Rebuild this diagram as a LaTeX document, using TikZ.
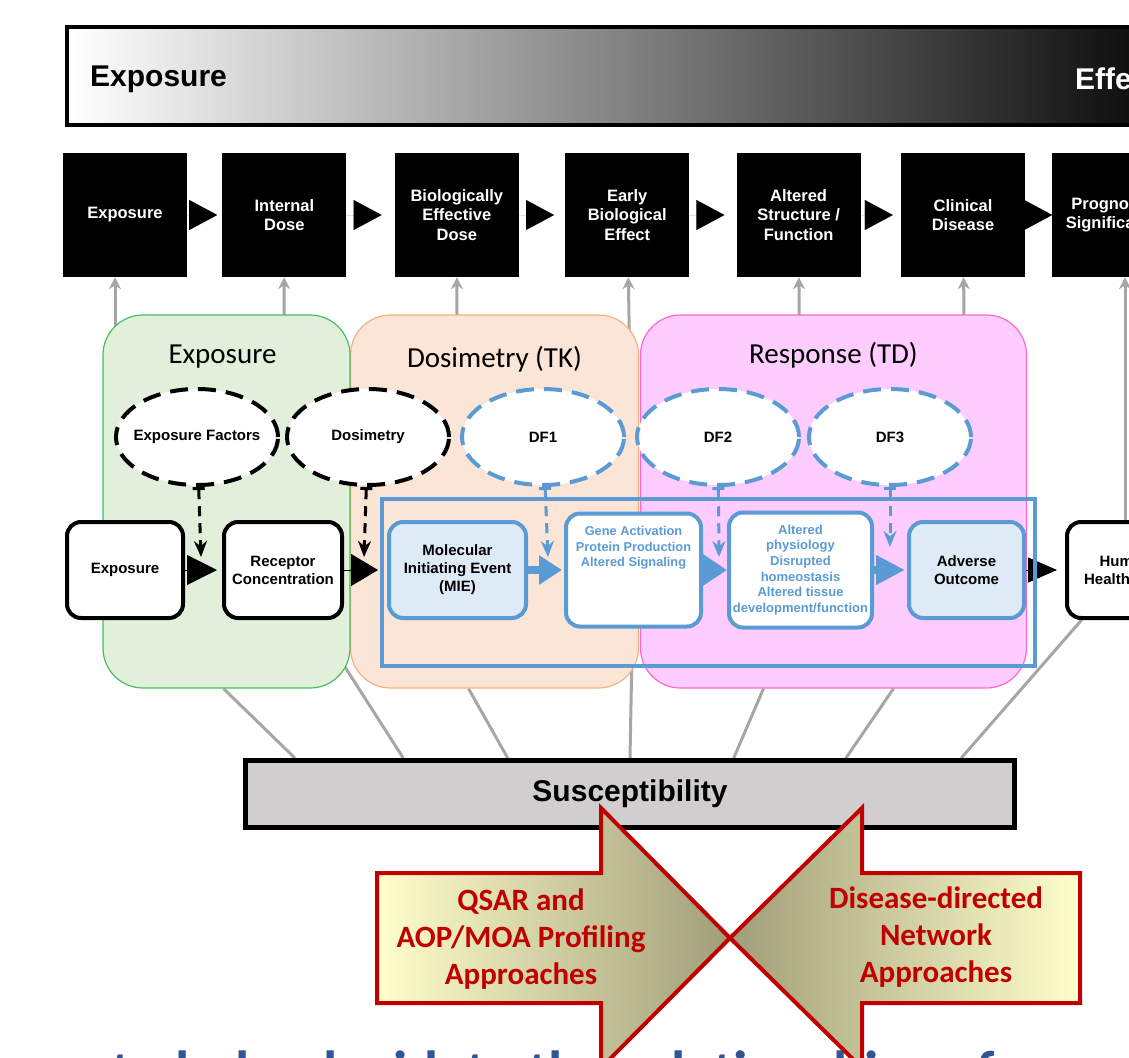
\documentclass[tikz,border=0pt]{standalone}
\usepackage{fontspec}
\setmainfont{Liberation Sans}
\newfontfamily\calibri{Carlito}
\usepackage{xcolor}
\usepackage{tikz}
\definecolor{aopblue}{RGB}{91, 155, 213}
\definecolor{mieblue}{RGB}{222, 235, 247}
\definecolor{expgreen}{RGB}{226, 239, 218}
\definecolor{expgreenline}{RGB}{70, 190, 95}
\definecolor{tkorange}{RGB}{251, 229, 214}
\definecolor{tkorangeline}{RGB}{244, 177, 131}
\definecolor{tdpink}{RGB}{255, 204, 255}
\definecolor{tdpinkline}{RGB}{255, 102, 204}
\definecolor{suscgray}{RGB}{208, 206, 206}
\definecolor{linkgray}{RGB}{166, 166, 166}
\definecolor{approachred}{RGB}{192, 0, 0}
\definecolor{paleyellow}{RGB}{255, 255, 204}
\definecolor{khaki}{RGB}{160, 158, 120}
\definecolor{titleblue}{RGB}{47, 85, 151}
\usetikzlibrary{shapes.geometric, arrows.meta, positioning, calc, backgrounds}
\pgfdeclarelayer{bottom}
\pgfsetlayers{bottom,background,main}

\begin{document}
\begin{tikzpicture}[
    x=1pt, y=-1pt,
    stage/.style={rectangle, fill=black, minimum width=124pt, minimum height=124pt,
                  inner sep=2pt, align=center, text=white,
                  font=\fontsize{16.5}{19.5}\selectfont\bfseries},
    stagearrow/.style={-{Triangle[length=28pt,width=30pt]}, line width=0.01pt},
    zonebox/.style={rectangle, rounded corners=40pt, line width=1.2pt, minimum height=373pt},
    zonetitle/.style={inner sep=0pt, font=\calibri\fontsize{29}{34}\selectfont},
    factor/.style={ellipse, draw=black, line width=4pt, dash pattern=on 18pt off 10pt,
                  fill=white, minimum width=162pt, minimum height=96pt,
                  inner xsep=-8pt, inner ysep=0pt,
                  font=\fontsize{15}{18}\selectfont\bfseries},
    dffactor/.style={factor, draw=aopblue},
    factorlink/.style={line width=3pt, dash pattern=on 10pt off 7pt,
                  {Bar[width=12pt]}-{Stealth[length=16pt,width=13pt]}},
    rowbox/.style={rectangle, draw=black, line width=4pt, rounded corners=14pt, fill=white,
                  align=center, minimum height=96pt, inner sep=1pt,
                  font=\fontsize{15}{18}\selectfont\bfseries},
    keybox/.style={rowbox, draw=aopblue, fill=mieblue},
    kebox/.style={rowbox, draw=aopblue, text=aopblue, font=\fontsize{13}{15.6}\selectfont\bfseries},
    rowarrow/.style={-{Triangle[length=30pt,width=30pt]}, line width=1pt},
    kearrow/.style={aopblue, line width=8pt, -{Triangle[length=23pt,width=28pt]}},
    uplink/.style={linkgray, line width=3pt, -{Stealth[length=12pt,width=12pt]}},
    downlink/.style={linkgray, line width=3pt},
    suscbox/.style={rectangle, draw=black, line width=5pt, fill=suscgray,
                  minimum width=769pt, minimum height=67pt,
                  font=\fontsize{30}{36}\selectfont\bfseries},
    approach/.style={draw=approachred, line width=4pt, line join=miter},
    approachtext/.style={align=center, text=approachred,
                  font=\calibri\bfseries\fontsize{31}{37}\selectfont}
]
    \useasboundingbox (0,0) rectangle (1129,1057);
    \clip (0,0) rectangle (1129,1057);

    % Exposure to effect bar
    \node[draw=black, line width=4pt, left color=white, middle color=black!28, right color=black,
          minimum width=1133pt, minimum height=98pt, inner sep=0pt, anchor=west] (expbar) at (65,76) {};
    \node[anchor=west, inner sep=0pt, font=\fontsize{30}{36}\selectfont\bfseries] (barexpo) at (90,79) {Exposure};
    \node[anchor=west, inner sep=0pt, text=white, font=\fontsize{30}{36}\selectfont\bfseries] (bareffect) at (1075,79) {Effects};

    % Continuum stages
    \node[stage] (tbexpo) at (125,215) {Exposure};
    \node[stage, right=35pt of tbexpo] (tbdose) {Internal\\Dose};
    \node[stage, right=48pt of tbdose] (tbbed) {Biologically\\Effective\\Dose};
    \node[stage, right=46pt of tbbed] (tbearly) {Early\\Biological\\Effect};
    \node[stage, right=47pt of tbearly] (tbalter) {Altered\\Structure /\\Function};
    \node[stage, right=40pt of tbalter] (tbclin) {Clinical\\Disease};
    \node[stage, right=27pt of tbclin] (tbprog) {Prognostic\\Significance};

    \draw[stagearrow, shorten >=5pt] (tbexpo) -- (tbdose);
    \draw[stagearrow, shorten >=13pt] (tbdose) -- (tbbed);
    \draw[stagearrow, shorten >=11pt] (tbbed) -- (tbearly);
    \draw[stagearrow, shorten >=12pt] (tbearly) -- (tbalter);
    \draw[stagearrow, shorten >=8pt] (tbalter) -- (tbclin);
    \draw[stagearrow] (tbclin) -- (tbprog);

    % Zones
    \begin{pgfonlayer}{background}
    \node[zonebox, fill=tkorange, draw=tkorangeline, minimum width=288pt] (grptk) at (494.5,501.5) {};
    \node[zonebox, fill=expgreen, draw=expgreenline, minimum width=247pt] (grpexpo) at (226.5,501.5) {};
    \node[zonebox, fill=tdpink, draw=tdpinkline, minimum width=386pt] (grptd) at (833.5,501.5) {};
    \end{pgfonlayer}
    \node[zonetitle, below=30pt of grpexpo.north, xshift=-4pt] (ttlexpo) {Exposure};
    \node[zonetitle, below=32pt of grptk.north] (ttltk) {Dosimetry (TK)};
    \node[zonetitle, below=28pt of grptd.north] (ttltd) {Response (TD)};

    % Modifying factors
    \node[factor] (expfac) at (197,437) {Exposure Factors};
    \node[factor, right=5pt of expfac] (dosim) {Dosimetry};
    \node[dffactor, right=9pt of dosim] (df1) {DF1};
    \node[dffactor, right=9pt of df1] (df2) {DF2};
    \node[dffactor, right=6pt of df2] (df3) {DF3};

    % Pathway boxes
    \node[rowbox, minimum width=116pt] (rexpo) at (125,570) {Exposure};
    \node[rowbox, minimum width=118pt, right=37pt of rexpo] (rrecep) {Receptor\\Concentration};
    \node[keybox, minimum width=137pt, right=43pt of rrecep] (rmie) {Molecular\\Initiating Event\\(MIE)};
    \node[kebox, minimum width=135pt, minimum height=113pt, right=36pt of rmie] (rgene) {};
    \node[inner sep=0pt, align=center, text=aopblue, font=\fontsize{12.8}{15.5}\selectfont\bfseries,
          below=15pt of rgene.north] (genetext) {Gene Activation\\Protein Production\\Altered Signaling};
    \node[kebox, minimum width=143pt, minimum height=115pt, right=24pt of rgene] (ralter)
          {Altered\\physiology\\Disrupted\\homeostasis\\Altered tissue\\development/function};
    \node[keybox, minimum width=115pt, right=33pt of ralter] (radverse) {Adverse\\Outcome};
    \node[rowbox, minimum width=116pt, right=39pt of radverse] (rhuman) {Human\\Health Risk};

    % Pathway arrows
    \draw[rowarrow, shorten >=5pt] (rexpo) -- (rrecep);
    \draw[rowarrow, shorten >=9pt, -{Triangle[length=27pt,width=32pt]}] (rrecep) -- (rmie);
    \draw[kearrow, shorten >=2pt] (rmie) -- (rgene);
    \draw[kearrow, -{Triangle[length=24pt,width=30pt]}] (rgene) -- (ralter);
    \draw[kearrow, shorten >=2pt, -{Triangle[length=29pt,width=28pt]}] (ralter) -- (radverse);
    \draw[rowarrow, shorten >=8pt, -{Triangle[length=29pt,width=25pt]}] (radverse) -- (rhuman);

    % AOP frame
    \node[draw=aopblue, line width=4pt, minimum width=653pt, minimum height=167pt, inner sep=0pt] (aopframe) at (708.5,582.5) {};

    % Factor links
    \coordinate (expin) at (201,557);
    \coordinate (dosin) at (364,557);
    \coordinate (df1in) at (548,557);
    \coordinate (df2in) at (719,557);
    \coordinate (df3in) at (890,547);
    \draw[factorlink] (expfac) -- (expin);
    \draw[factorlink] (dosim) -- (dosin);
    \draw[factorlink, aopblue] (df1) -- (df1in);
    \draw[factorlink, aopblue] (df2) -- (df2in);
    \draw[factorlink, aopblue] (df3) -- (df3in);

    % Susceptibility
    \node[suscbox] (susc) at (630,794) {Susceptibility};

    \node[anchor=base east, inner sep=0pt, text=titleblue,
          font=\calibri\bfseries\fontsize{58}{70}\selectfont] (slidenote) at (995,1091)
          {to help elucidate the relationships of};

    % Approaches
    \draw[approach, left color=paleyellow, right color=khaki]
        (377,873) -- (601,873) -- (601,808) -- (730,938) -- (601,1068) -- (601,1003) -- (377,1003) -- cycle;
    \draw[approach, left color=khaki, right color=paleyellow]
        (1080,873) -- (862,873) -- (862,808) -- (730,938) -- (862,1068) -- (862,1003) -- (1080,1003) -- cycle;
    \node[approachtext] (qsar) at (521,939) {QSAR and\\AOP/MOA Profiling\\Approaches};
    \node[approachtext] (disease) at (936,937) {Disease-directed\\Network\\Approaches};

    % Grey links
    \begin{pgfonlayer}{bottom}
    \draw[uplink] ([xshift=-10pt]rexpo.north) -- ([xshift=-10pt]tbexpo.south);
    \draw[uplink] (rrecep) -- (tbdose);
    \draw[uplink] (rmie) -- (tbbed);
    \draw[uplink] (rgene) -- (tbearly);
    \draw[uplink] (ralter) -- (tbalter);
    \draw[uplink] (radverse) -- (tbclin);
    \draw[uplink] (rhuman.north) -- (rhuman.north |- tbprog.south);
    \draw[downlink] ([xshift=-3pt]grpexpo.south) -- ($(susc.north west)!0.067!(susc.north east)$);
    \draw[downlink] (rrecep) -- ($(susc.north west)!0.207!(susc.north east)$);
    \draw[downlink] ([xshift=-26pt]grptk.south) -- ($(susc.north west)!0.342!(susc.north east)$);
    \draw[downlink] (rgene) -- ($(susc.north west)!0.5!(susc.north east)$);
    \draw[downlink] ([xshift=-70pt]grptd.south) -- ($(susc.north west)!0.634!(susc.north east)$);
    \draw[downlink] ([xshift=60pt]grptd.south) -- ($(susc.north west)!0.779!(susc.north east)$);
    \draw[downlink] (rhuman) -- ($(susc.north west)!0.928!(susc.north east)$);
    \end{pgfonlayer}
\end{tikzpicture}
\end{document}
